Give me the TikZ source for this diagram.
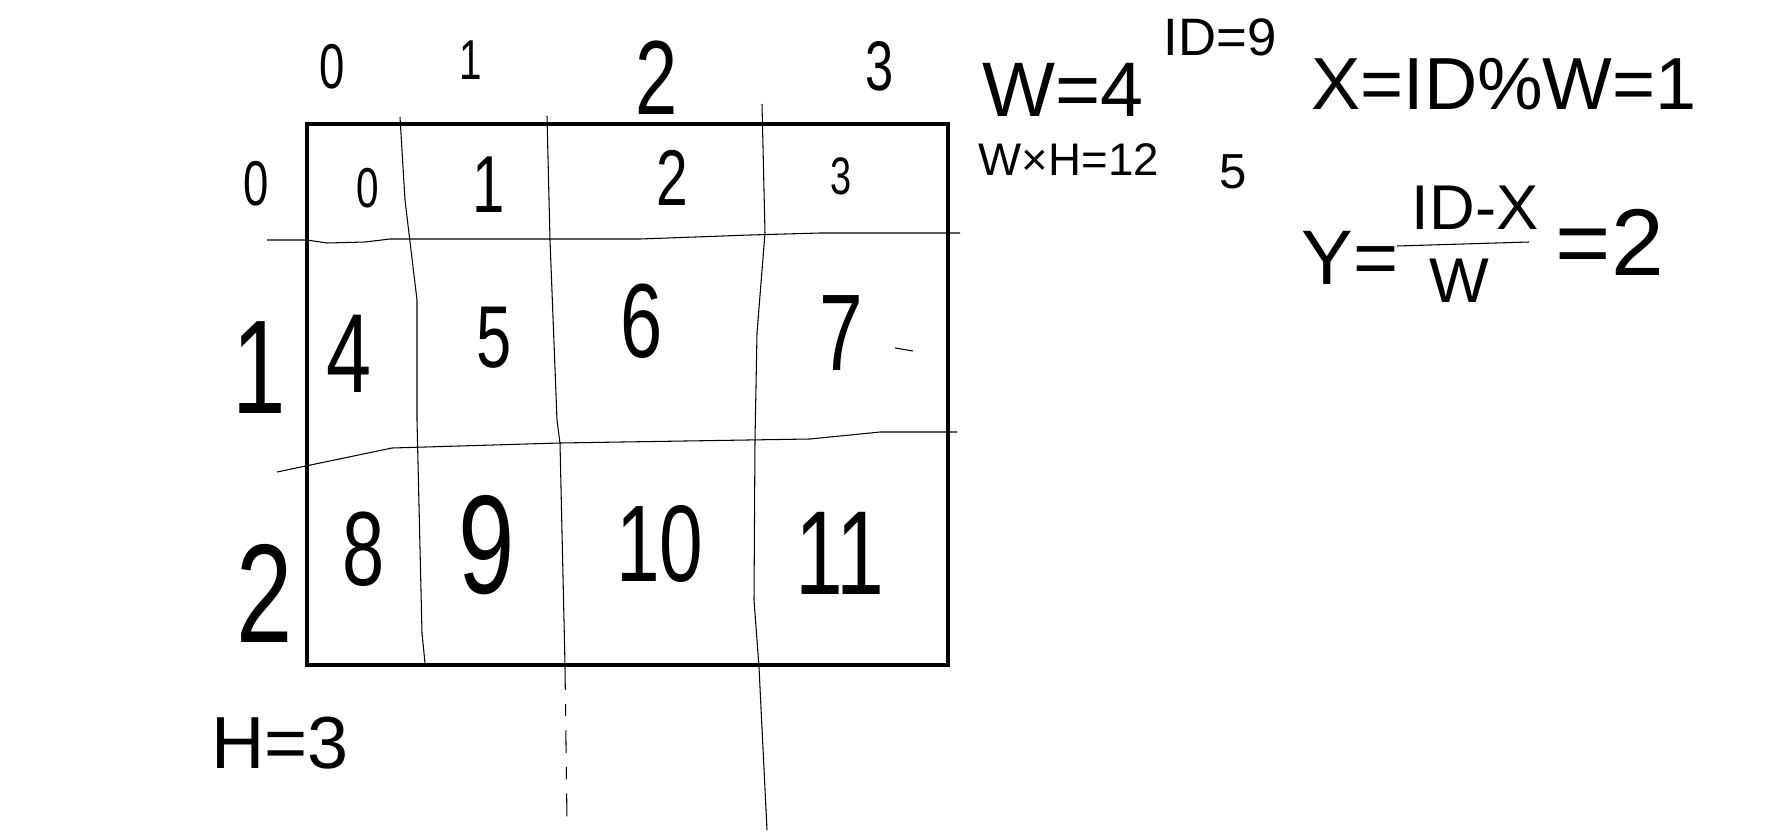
\documentclass[tikz,border=0pt]{standalone}
\usepackage{fontspec}
\setmainfont{Liberation Sans}
\begin{document}
\begin{tikzpicture}[x=0.02cm, y=-0.02cm,
  pen/.style={line width=0.6pt},
  frame/.style={line width=2.8pt},
  digit/.style={inner sep=0pt, font=\fontsize{#1}{#1}\selectfont},
  narrow/.style={xscale=0.72, transform shape}]
\useasboundingbox (0,0) rectangle (1776,832);

% frame
\draw [frame] (307,124) rectangle (948,665);

% row lines
\draw [pen] (267,240) -- (307,240) -- (327,243) -- (365,242) -- (390,239) -- (640,239) -- (750,235) -- (820,233) -- (960,233);
\draw [pen] (277,472) -- (392,448) -- (560,443) -- (810,439) -- (880,432) -- (957,432);

% column lines
\draw [pen] (400,117) -- (405,200) -- (417,300) -- (417,420) -- (422,633) -- (425,663);
\draw [pen] (547,116) -- (550,240) -- (557,420) -- (560,443) -- (565,665);
\draw [pen, dash pattern=on 13pt off 8pt on 7pt off 8pt] (565,667) -- (567,820);
\draw [pen] (762,104) -- (765,233) -- (757,333) -- (755,440) -- (754,600) -- (759,667) -- (767,830);

% column index
\node [digit=36, narrow] (col0) at (332,67) {0};
\node [digit=32, narrow] (col1) at (471,60) {1};
\node [digit=60, narrow] (col2) at (657,78) {2};
\node [digit=40, narrow] (col3) at (880,66) {3};

% row index
\node [digit=36, narrow] (row0) at (256,184) {0};
\node [digit=76, narrow] (row1) at (259,368) {1};
\node [digit=80, narrow] (row2) at (265,593) {2};

% cell ids
\node [digit=32, narrow] (id0) at (368,188) {0};
\node [digit=46, narrow] (id1) at (489,185) {1};
\node [digit=45, narrow] (id2) at (672,178) {2};
\node [digit=30, narrow] (id3) at (841,176) {3};
\node [digit=64, narrow] (id4) at (349,354) {4};
\node [digit=50, narrow] (id5) at (494,338) {5};
\node [digit=60, narrow] (id6) at (642,321) {6};
\node [digit=62, narrow] (id7) at (841,333) {7};
\node [digit=60, narrow] (id8) at (364,549) {8};
\node [digit=80, narrow] (id9) at (487,545) {9};
\node [digit=62, narrow] (id10) at (660,544) {10};
\node [digit=68, narrow] (id11) at (840,553) {11};
\draw [pen] (895,348) -- (913,351);

% height
\node [digit=42] (hgt) at (280,743) {H=3};

% width and size
\node [digit=44] (wdt) at (1063,90) {W=4};
\node [digit=30] (idval) at (1220,37) {ID=9};
\node [digit=26] (size) at (1069,160) {W×H=12};
\node [digit=28] (five) at (1233,172) {5};

% x formula
\node [digit=42] (xform) at (1504,84) {X=ID\%W=1};

% y formula
\node [digit=44] (yeq) at (1350,258) {Y=};
\node [digit=36] (numer) at (1475,208) {ID-X};
\node [digit=36] (denom) at (1459,281) {W};
\draw [pen] (1397,246) -- (1529,242);
\node [digit=54] (eqtwo) at (1610,242) {=2};
\end{tikzpicture}
\end{document}
